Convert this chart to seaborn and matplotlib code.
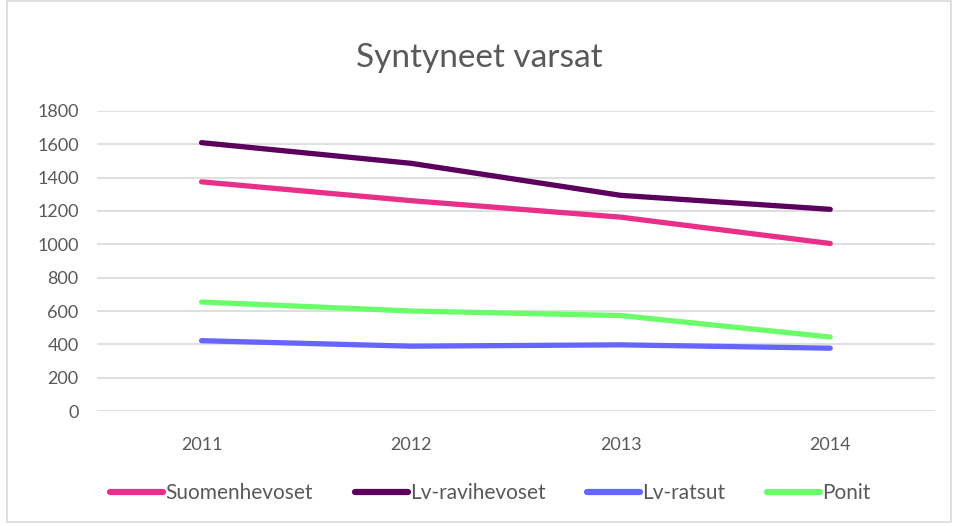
import pandas as pd
import seaborn as sns
import matplotlib.pyplot as plt
from matplotlib.patches import Rectangle

# Data
years = ["2011", "2012", "2013", "2014"]
suomenhevoset = [1375, 1262, 1163, 1005]
lv_ravihevoset = [1610, 1486, 1294, 1210]
lv_ratsut = [422, 389, 397, 377]
ponit = [654, 600, 573, 444]

series_names = ["Suomenhevoset", "Lv-ravihevoset", "Lv-ratsut", "Ponit"]
series_colors = ["#E8308A", "#5C005E", "#6666FF", "#6AFF6A"]

df = pd.DataFrame({
    "year": years * 4,
    "value": suomenhevoset + lv_ravihevoset + lv_ratsut + ponit,
    "series": [n for n in series_names for _ in years],
})

sns.set_theme(style="white")
plt.rcParams["font.family"] = ["Lato", "DejaVu Sans"]

fig = plt.figure(figsize=(9.58, 5.26), dpi=100)
ax = fig.add_axes([0.101, 0.2186, 0.875, 0.5704])

sns.lineplot(
    data=df, x="year", y="value", hue="series",
    palette=dict(zip(series_names, series_colors)),
    linewidth=3.8, sort=False, ax=ax,
    solid_capstyle="round", solid_joinstyle="round",
)

ax.set_xlim(-0.5, 3.5)
ax.set_ylim(0, 1800)
ax.set_yticks(range(0, 1801, 200))
ax.yaxis.grid(True, color="#D9D9D9", linewidth=1.2)
ax.set_axisbelow(True)
for s in ax.spines.values():
    s.set_visible(False)
ax.tick_params(axis="both", length=0, labelsize=13, labelcolor="#595959")
ax.tick_params(axis="y", pad=13)
ax.tick_params(axis="x", pad=19)
ax.set_xlabel("")
ax.set_ylabel("")

fig.text(0.5, 1 - 67 / 526, "Syntyneet varsat", ha="center", va="baseline",
         fontsize=24, color="#595959")

leg = ax.legend(
    loc="center", ncol=4, frameon=False, fontsize=15,
    handlelength=2.55, handletextpad=0.1, columnspacing=2.0,
)
leg.set_bbox_to_anchor((0.512, 1 - 493 / 526), transform=fig.transFigure)
for t in leg.get_texts():
    t.set_color("#595959")
for h in leg.get_lines():
    h.set_linewidth(4.5)
    h.set_solid_capstyle("round")

fig.patches.append(Rectangle((0.007, 0.008), 0.986, 0.99, transform=fig.transFigure,
                             fill=False, edgecolor="#D9D9D9", linewidth=1.2))

fig.savefig("out.png", dpi=100)
